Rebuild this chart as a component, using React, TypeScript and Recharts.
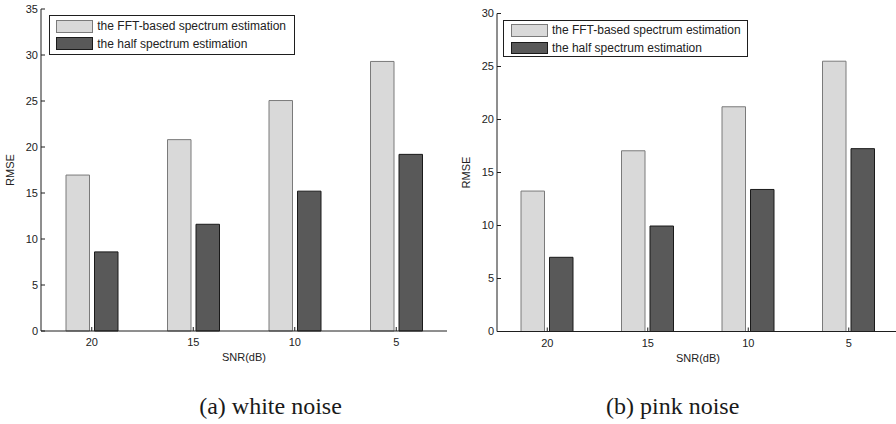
import React from 'react';
import { BarChart, Bar, XAxis, YAxis, Legend } from 'recharts';

// ---- data ----
const snrCategories = ['20', '15', '10', '5'];
const whiteFFT = [16.95, 20.8, 25.05, 29.3];
const whiteHalf = [8.6, 11.6, 15.2, 19.2];
const pinkFFT = [13.25, 17.05, 21.2, 25.5];
const pinkHalf = [7.0, 9.95, 13.4, 17.25];
const whiteTicks = [0, 5, 10, 15, 20, 25, 30, 35];
const pinkTicks = [0, 5, 10, 15, 20, 25, 30];
const seriesNames = ['the FFT-based spectrum estimation', 'the half spectrum estimation'];
const captions = ['(a) white noise', '(b) pink noise'];
const xLabel = 'SNR(dB)';
const yLabel = 'RMSE';

const buildRows = (a: number[], b: number[]) =>
  snrCategories.map((snr, i) => ({ snr, fft: a[i], half: b[i] }));

const whiteRows = buildRows(whiteFFT, whiteHalf);
const pinkRows = buildRows(pinkFFT, pinkHalf);

// ---- style ----
const FONT = '"Liberation Sans", Arial, Helvetica, sans-serif';
const AXIS = '#1e1e1e';
const LIGHT_FILL = '#d9d9d9';
const LIGHT_STROKE = '#7a7a7a';
const DARK_FILL = '#595959';
const DARK_STROKE = '#1a1a1a';
const TICK_FS = 11;
const TL = 4;

const leftYTick = (props: any) => {
  const { x, y, payload } = props;
  return (
    <g>
      <line x1={x} x2={x + TL} y1={y} y2={y} stroke={AXIS} strokeWidth={1} />
      <text x={x - 3} y={y} dy={3.8} textAnchor="end" fontSize={TICK_FS} fontFamily={FONT} fill="#222">
        {payload.value}
      </text>
    </g>
  );
};
const rightYTick = (props: any) => {
  const { x, y } = props;
  return <line x1={x} x2={x - TL} y1={y} y2={y} stroke={AXIS} strokeWidth={1} />;
};
const bottomXTick = (props: any) => {
  const { x, y, payload } = props;
  return (
    <g>
      <line x1={x} x2={x} y1={y} y2={y - TL} stroke={AXIS} strokeWidth={1} />
      <text x={x} y={y + 15} textAnchor="middle" fontSize={TICK_FS} fontFamily={FONT} fill="#222">
        {payload.value}
      </text>
    </g>
  );
};
const topXTick = (props: any) => {
  const { x, y } = props;
  return <line x1={x} x2={x} y1={y} y2={y + TL} stroke={AXIS} strokeWidth={1} />;
};

const makeLegend = (rowH: number, padTop: number, boxW: number, boxH: number) => (props: any) => {
  const payload = props.payload || [];
  return (
    <div
      style={{
        width: boxW,
        height: boxH,
        boxSizing: 'border-box',
        border: `1px solid ${AXIS}`,
        background: '#fff',
        paddingTop: padTop,
        paddingLeft: 6.3,
        fontFamily: FONT,
        fontSize: 12,
        color: '#222',
      }}
    >
      {payload.map((p: any, i: number) => (
        <div key={i} style={{ height: rowH, display: 'flex', alignItems: 'center' }}>
          <span
            style={{
              display: 'inline-block',
              width: 37.3,
              height: 12.7,
              boxSizing: 'border-box',
              background: i === 0 ? LIGHT_FILL : DARK_FILL,
              border: `1px solid ${i === 0 ? LIGHT_STROKE : DARK_STROKE}`,
              marginRight: 4,
            }}
          />
          <span style={{ whiteSpace: 'nowrap' }}>{p.value}</span>
        </div>
      ))}
    </div>
  );
};

type PanelProps = {
  rows: any[];
  yMax: number;
  ticks: number[];
  left: number;
  width: number;
  height: number;
  margin: any;
  xAxisH: number;
  legendPos: { left: number; top: number };
  legend: (p: any) => any;
};

const Panel = ({ rows, yMax, ticks, left, width, height, margin, xAxisH, legendPos, legend }: PanelProps) => (
  <div style={{ position: 'absolute', left, top: 0, width, height }}>
    <BarChart width={width} height={height} data={rows} margin={margin} barSize={23.5} barGap={5}>
      <XAxis
        dataKey="snr"
        height={xAxisH}
        axisLine={{ stroke: AXIS, strokeWidth: 1 }}
        tickLine={false}
        tickSize={0}
        tickMargin={0}
        tick={bottomXTick}
        interval={0}
        label={{ value: xLabel, position: 'insideBottom', offset: xAxisH - 30, fontSize: TICK_FS, fontFamily: FONT, fill: '#222' }}
      />
      <XAxis
        xAxisId="t"
        dataKey="snr"
        orientation="top"
        height={0}
        axisLine={{ stroke: AXIS, strokeWidth: 1 }}
        tickLine={false}
        tickSize={0}
        tickMargin={0}
        tick={topXTick}
        interval={0}
      />
      <YAxis
        width={41}
        domain={[0, yMax]}
        ticks={ticks}
        type="number"
        axisLine={{ stroke: AXIS, strokeWidth: 1 }}
        tickLine={false}
        tickSize={0}
        tickMargin={0}
        tick={leftYTick}
        interval={0}
        label={{ value: yLabel, angle: -90, position: 'insideLeft', offset: 10, fontSize: TICK_FS, fontFamily: FONT, fill: '#222', style: { textAnchor: 'middle' } }}
      />
      <YAxis
        yAxisId="r"
        orientation="right"
        width={0}
        domain={[0, yMax]}
        ticks={ticks}
        type="number"
        axisLine={{ stroke: AXIS, strokeWidth: 1 }}
        tickLine={false}
        tickSize={0}
        tickMargin={0}
        tick={rightYTick}
        interval={0}
      />
      <Legend
        layout="vertical"
        align="center"
        verticalAlign="middle"
        wrapperStyle={{ left: legendPos.left, top: legendPos.top, width: 'auto', height: 'auto' }}
        content={legend}
      />
      <Bar dataKey="fft" name={seriesNames[0]} fill={LIGHT_FILL} stroke={LIGHT_STROKE} strokeWidth={1} isAnimationActive={false} />
      <Bar dataKey="half" name={seriesNames[1]} fill={DARK_FILL} stroke={DARK_STROKE} strokeWidth={1} isAnimationActive={false} />
    </BarChart>
  </div>
);

export default function App() {
  return (
    <div style={{ position: 'fixed', left: 0, top: 0, width: 896, height: 424, overflow: 'hidden', background: '#fff' }}>
      <Panel
        rows={whiteRows}
        yMax={35}
        ticks={whiteTicks}
        left={0}
        width={455}
        height={380}
        margin={{ top: 9, right: 8, bottom: 0, left: 0 }}
        xAxisH={49}
        legendPos={{ left: 48.7, top: 14.7 }}
        legend={makeLegend(17.3, 2, 246, 40)}
      />
      <Panel
        rows={pinkRows}
        yMax={30}
        ticks={pinkTicks}
        left={456}
        width={446}
        height={381}
        margin={{ top: 13.5, right: 3, bottom: 0, left: 0 }}
        xAxisH={49.5}
        legendPos={{ left: 47.3, top: 20 }}
        legend={makeLegend(17.6, 0.5, 245, 37.3)}
      />
      <svg width={896} height={424} style={{ position: 'absolute', left: 0, top: 0, pointerEvents: 'none' }}>
        <text x={270.5} y={414} textAnchor="middle" fontFamily='"Liberation Serif", "Times New Roman", serif' fontSize={24} fill="#1a1a1a">
          {captions[0]}
        </text>
        <text x={672.7} y={414} textAnchor="middle" fontFamily='"Liberation Serif", "Times New Roman", serif' fontSize={24} fill="#1a1a1a">
          {captions[1]}
        </text>
      </svg>
    </div>
  );
}
